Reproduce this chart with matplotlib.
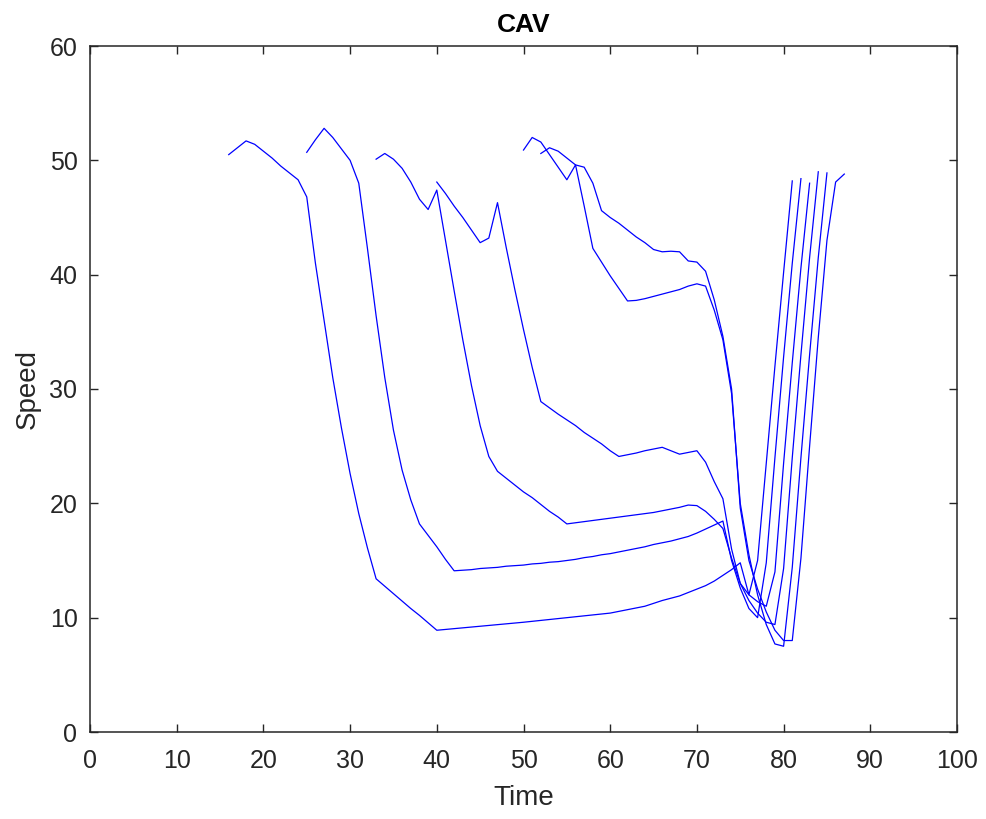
import numpy as np
from matplotlib import pyplot as plt

plt.rcParams['font.family'] = ['Liberation Sans', 'DejaVu Sans']

# speed of each CAV, one sample per second starting at start time
startA = 16
speedA = [50.5, 51.1, 51.7, 51.4, 50.8, 50.2, 49.5, 48.9, 48.3, 46.8,
          41.0, 36.0, 31.0, 26.6, 22.6, 19.1, 16.1, 13.4, 12.75, 12.1,
          11.45, 10.8, 10.2, 9.55, 8.9, 8.97, 9.04, 9.11, 9.18, 9.25,
          9.32, 9.39, 9.46, 9.53, 9.6, 9.68, 9.76, 9.84, 9.92, 10.0,
          10.08, 10.16, 10.24, 10.32, 10.4, 10.55, 10.7, 10.85, 11.0, 11.25,
          11.5, 11.7, 11.9, 12.2, 12.5, 12.8, 13.2, 13.7, 14.2, 14.8,
          12.0, 15.0, 23.5, 32.0, 40.2, 48.2]

startB = 25
speedB = [50.7, 51.8, 52.8, 52.0, 51.0, 50.0, 48.0, 42.3, 36.4, 31.0,
          26.4, 22.9, 20.3, 18.2, 17.2, 16.2, 15.1, 14.1, 14.15, 14.2,
          14.3, 14.35, 14.4, 14.5, 14.55, 14.6, 14.7, 14.75, 14.85, 14.9,
          15.0, 15.1, 15.25, 15.35, 15.5, 15.6, 15.75, 15.9, 16.05, 16.2,
          16.4, 16.55, 16.7, 16.9, 17.1, 17.4, 17.75, 18.1, 18.45, 15.0,
          12.6, 10.8, 10.0, 14.8, 24.0, 32.8, 41.0, 48.4]

startC = 33
speedC = [50.1, 50.6, 50.1, 49.3, 48.1, 46.6, 45.7, 47.4, 43.0, 38.6,
          34.3, 30.3, 26.8, 24.1, 22.8, 22.2, 21.6, 21.0, 20.5, 19.9,
          19.3, 18.8, 18.2, 18.3, 18.4, 18.5, 18.6, 18.7, 18.8, 18.9,
          19.0, 19.1, 19.2, 19.35, 19.5, 19.65, 19.85, 19.8, 19.3, 18.6,
          17.8, 15.2, 13.0, 12.0, 11.4, 11.0, 14.0, 23.5, 32.3, 40.6,
          48.0]

startD = 40
speedD = [48.1, 47.1, 46.0, 45.0, 43.9, 42.8, 43.2, 46.3, 42.4, 38.7,
          35.2, 31.9, 28.9, 28.35, 27.8, 27.3, 26.8, 26.2, 25.7, 25.2,
          24.6, 24.1, 24.25, 24.4, 24.6, 24.75, 24.9, 24.6, 24.3, 24.45,
          24.6, 23.6, 21.9, 20.4, 16.0, 13.0, 11.5, 10.4, 9.6, 9.4,
          14.3, 24.0, 33.0, 41.5, 49.0]

startE = 50
speedE = [50.9, 52.0, 51.6, 50.5, 49.4, 48.3, 49.6, 46.0, 42.3, 41.1,
          39.9, 38.8, 37.7, 37.75, 37.9, 38.1, 38.3, 38.5, 38.7, 39.0,
          39.2, 39.0, 36.9, 34.3, 29.6, 20.0, 15.5, 12.0, 9.4, 7.7,
          7.5, 14.4, 24.0, 33.0, 41.5, 48.9]

startF = 52
speedF = [50.6, 51.1, 50.8, 50.2, 49.6, 49.4, 48.0, 45.6, 45.0, 44.5,
          43.9, 43.3, 42.8, 42.2, 42.0, 42.05, 42.0, 41.2, 41.1, 40.3,
          37.8, 34.6, 30.0, 19.6, 15.0, 12.5, 10.5, 8.9, 8.0, 8.0,
          15.2, 25.0, 34.5, 43.0, 48.1, 48.8]

vehicles = [(startA, speedA), (startB, speedB), (startC, speedC),
            (startD, speedD), (startE, speedE), (startF, speedF)]

dark = '#262626'
fig = plt.figure(figsize=(9.86, 8.19), dpi=100)
ax = fig.add_axes([90/986, 87/819, 867/986, 686/819])

for start, speed in vehicles:
    t = start + np.arange(len(speed))
    ax.plot(t, speed, color=(0, 0, 1), linewidth=0.9)

ax.set_xlim(0, 100)
ax.set_ylim(0, 60)
ax.set_xticks(np.arange(0, 101, 10))
ax.set_yticks(np.arange(0, 61, 10))
ax.tick_params(direction='in', top=True, right=True, length=6, width=1.0,
               colors=dark, labelsize=18)
ax.tick_params(axis='x', pad=12)
ax.tick_params(axis='y', pad=9)
for s in ax.spines.values():
    s.set_linewidth(1.1)
    s.set_color(dark)

ax.set_xlabel('Time', fontsize=20, color=dark, labelpad=9)
ax.set_ylabel('Speed', fontsize=20, color=dark, labelpad=6)
ax.set_title('CAV', fontsize=19, fontweight='bold', color='black', pad=10)

plt.savefig('out.png', dpi=100)
